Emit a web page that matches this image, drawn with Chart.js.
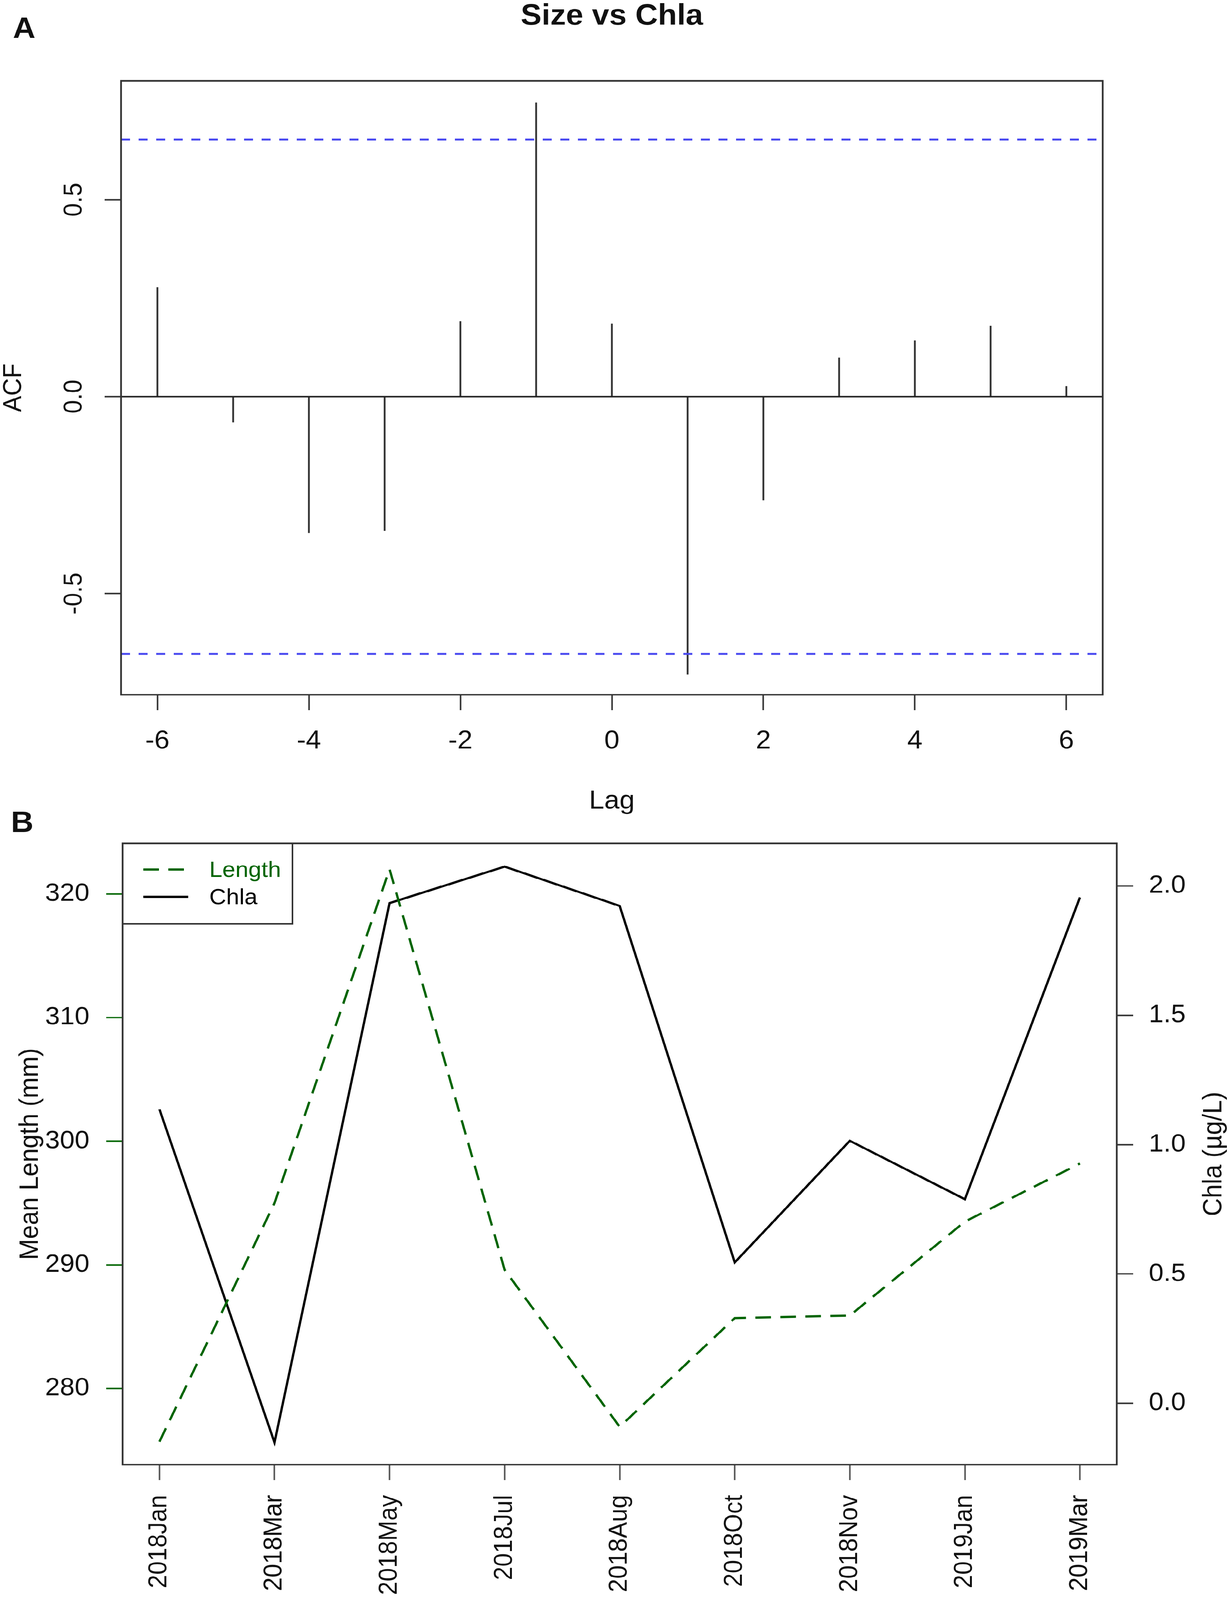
<!DOCTYPE html>
<html>
<head>
<meta charset="utf-8">
<script src="https://cdn.jsdelivr.net/npm/chart.js@4.4.1/dist/chart.umd.min.js"></script>
<style>
  html, body { margin: 0; padding: 0; background: #fff; overflow: hidden; }
  #page { width: 3150px; height: 4339px; position: relative; transform-origin: 0 0; }
  canvas { position: absolute; left: 0; }
  #acfChart { top: 0; }
  #seriesChart { top: 2200px; }
</style>
</head>
<body>
<div id="page">
<canvas id="acfChart" width="3150" height="2300"></canvas>
<canvas id="seriesChart" width="3150" height="2139"></canvas>
</div>
<script>
// panel A - cross correlation, size vs chla
const lags = [-6, -5, -4, -3, -2, -1, 0, 1, 2, 3, 4, 5, 6];
const acfValues = [0.277, -0.065, -0.346, -0.341, 0.191, 0.746, 0.185, -0.705, -0.263, 0.099, 0.142, 0.179, 0.026];
const ciLevel = 0.653;
const lagTicks = [-6, -4, -2, 0, 2, 4, 6];
const acfTicks = [-0.5, 0, 0.5];

// panel B - monthly mean length and chla
const months = ["2018Jan", "2018Mar", "2018May", "2018Jul", "2018Aug", "2018Oct", "2018Nov", "2019Jan", "2019Mar"];
const meanLength = [275.7, 295.0, 322.0, 289.6, 276.9, 285.7, 285.9, 293.5, 298.2];
const chla = [1.137, -0.151, 1.934, 2.075, 1.923, 0.545, 1.015, 0.789, 1.956];
const lengthTicks = [280, 290, 300, 310, 320];
const chlaTicks = [0, 0.5, 1, 1.5, 2];

// the photo may be taken of a shorter viewport than the page; squeeze to fit
const fit = Math.min(1, window.innerHeight / 4339);
document.getElementById("page").style.transform = "scale(1, " + fit + ")";

const FONT = "'Liberation Sans', Arial, Helvetica, sans-serif";
Chart.defaults.font.family = FONT;
Chart.defaults.color = "#111";

const GREEN = "#006400";

function tickMarks(color) {
    return {
        display: true,
        offset: false,
        drawOnChartArea: false,
        drawTicks: true,
        tickLength: 42,
        tickWidth: 4,
        tickColor: color
    };
}

function setTicks(values) {
    return function (scale) {
        scale.ticks = values.map(v => ({ value: v }));
    };
}

function rotatedText(ctx, text, x, y) {
    ctx.save();
    ctx.translate(x, y);
    ctx.rotate(-Math.PI / 2);
    ctx.fillText(text, 0, 0);
    ctx.restore();
}

// ---------- A ----------
const acfDecor = {
    id: "acfDecor",
    afterDraw(chart) {
        const ctx = chart.ctx;
        const ca = chart.chartArea;
        const midX = (ca.left + ca.right) / 2;
        const midY = (ca.top + ca.bottom) / 2;
        ctx.save();
        ctx.strokeStyle = "#333";
        ctx.lineWidth = 4.5;
        ctx.strokeRect(ca.left, ca.top, ca.right - ca.left, ca.bottom - ca.top);

        ctx.fillStyle = "#111";
        ctx.textAlign = "center";
        ctx.textBaseline = "middle";
        ctx.font = "66px " + FONT;
        const ys = chart.scales.y;
        ys.ticks.forEach(t => {
            rotatedText(ctx, t.value.toFixed(1), ca.left - 119, ys.getPixelForValue(t.value));
        });

        rotatedText(ctx, "ACF", 36, midY);

        ctx.textBaseline = "alphabetic";
        ctx.font = "70px " + FONT;
        ctx.fillText("Lag", midX, 2193);

        ctx.font = "bold 80px " + FONT;
        ctx.fillText("Size vs Chla", midX, 67);

        ctx.textAlign = "left";
        ctx.fillText("A", 33, 103);
        ctx.restore();
    }
};

new Chart(document.getElementById("acfChart"), {
    type: "bar",
    data: {
        datasets: [
            {
                type: "line",
                data: [{ x: -6.48, y: ciLevel }, { x: 6.48, y: ciLevel }],
                borderColor: "#4848f0",
                borderWidth: 5,
                borderDash: [23, 22],
                pointRadius: 0,
                order: 0
            },
            {
                type: "line",
                data: [{ x: -6.48, y: -ciLevel }, { x: 6.48, y: -ciLevel }],
                borderColor: "#4848f0",
                borderWidth: 5,
                borderDash: [23, 22],
                pointRadius: 0,
                order: 0
            },
            {
                type: "line",
                data: [{ x: -6.48, y: 0 }, { x: 6.48, y: 0 }],
                borderColor: "#222",
                borderWidth: 4,
                pointRadius: 0,
                order: 1
            },
            {
                type: "bar",
                data: lags.map((l, i) => ({ x: l, y: acfValues[i] })),
                backgroundColor: "#333",
                borderWidth: 0,
                barThickness: 4,
                order: 2
            }
        ]
    },
    options: {
        responsive: false,
        animation: false,
        devicePixelRatio: 1,
        layout: { padding: { top: 219, right: 326, left: 0, bottom: 0 } },
        plugins: { legend: { display: false }, tooltip: { enabled: false } },
        scales: {
            x: {
                type: "linear",
                offset: false,
                min: -6.48,
                max: 6.48,
                afterBuildTicks: setTicks(lagTicks),
                afterFit: s => { s.height = 416; },
                border: { display: false },
                grid: tickMarks("#333"),
                ticks: {
                    font: { size: 70 },
                    padding: 43,
                    maxRotation: 0,
                    autoSkip: false,
                    callback: v => String(v)
                }
            },
            y: {
                type: "linear",
                min: -0.757,
                max: 0.802,
                afterBuildTicks: setTicks(acfTicks),
                afterFit: s => { s.width = 310; },
                border: { display: false },
                grid: tickMarks("#333"),
                ticks: { display: false }
            }
        }
    },
    plugins: [acfDecor]
});

// ---------- B ----------
const seriesDecor = {
    id: "seriesDecor",
    afterDraw(chart) {
        const ctx = chart.ctx;
        const ca = chart.chartArea;
        const midY = (ca.top + ca.bottom) / 2;
        ctx.save();
        ctx.strokeStyle = "#333";
        ctx.lineWidth = 4.5;
        ctx.strokeRect(ca.left, ca.top, ca.right - ca.left, ca.bottom - ca.top);

        // legend
        const lx = ca.left, ly = ca.top, lw = 435, lh = 218;
        ctx.lineWidth = 4;
        ctx.strokeRect(lx, ly, lw, lh);
        const rows = [71, 145];
        ctx.font = "60px " + FONT;
        ctx.textAlign = "left";
        ctx.textBaseline = "middle";
        chart.data.datasets.forEach((ds, i) => {
            const y = ly + rows[i];
            ctx.beginPath();
            ctx.strokeStyle = ds.borderColor;
            ctx.lineWidth = ds.borderWidth;
            ctx.setLineDash(ds.borderDash || []);
            ctx.moveTo(367, y);
            ctx.lineTo(482, y);
            ctx.stroke();
            ctx.setLineDash([]);
            ctx.fillStyle = ds.borderColor;
            ctx.fillText(ds.label, 536, y + 3);
        });

        ctx.fillStyle = "#111";
        ctx.textAlign = "center";
        ctx.font = "68px " + FONT;
        rotatedText(ctx, "Mean Length (mm)", 78, midY);
        rotatedText(ctx, "Chla (\u00b5g/L)", 3109, midY);

        ctx.textAlign = "left";
        ctx.textBaseline = "alphabetic";
        ctx.font = "bold 80px " + FONT;
        ctx.fillText("B", 28, 56);
        ctx.restore();
    }
};

new Chart(document.getElementById("seriesChart"), {
    type: "line",
    data: {
        datasets: [
            {
                label: "Length",
                data: meanLength.map((v, i) => ({ x: i, y: v })),
                yAxisID: "yL",
                borderColor: GREEN,
                borderWidth: 6,
                borderDash: [40, 24],
                pointRadius: 0,
                tension: 0
            },
            {
                label: "Chla",
                data: chla.map((v, i) => ({ x: i, y: v })),
                yAxisID: "yR",
                borderColor: "#000",
                borderWidth: 6,
                pointRadius: 0,
                tension: 0
            }
        ]
    },
    options: {
        responsive: false,
        animation: false,
        devicePixelRatio: 1,
        layout: { padding: { top: 87, right: 0, left: 0, bottom: 0 } },
        plugins: { legend: { display: false }, tooltip: { enabled: false } },
        scales: {
            x: {
                type: "linear",
                offset: false,
                min: -0.32,
                max: 8.32,
                afterBuildTicks: setTicks(months.map((m, i) => i)),
                afterFit: s => { s.height = 367; },
                border: { display: false },
                grid: tickMarks("#555"),
                ticks: {
                    font: { size: 66 },
                    padding: 40,
                    minRotation: 90,
                    maxRotation: 90,
                    autoSkip: false,
                    callback: v => months[v]
                }
            },
            yL: {
                type: "linear",
                position: "left",
                min: 273.84,
                max: 324.1,
                afterBuildTicks: setTicks(lengthTicks),
                afterFit: s => { s.width = 314; },
                border: { display: false },
                grid: tickMarks(GREEN),
                ticks: { font: { size: 68 }, padding: 43, callback: v => String(v) }
            },
            yR: {
                type: "linear",
                position: "right",
                min: -0.237,
                max: 2.165,
                afterBuildTicks: setTicks(chlaTicks),
                afterFit: s => { s.width = 290; },
                border: { display: false },
                grid: tickMarks("#333"),
                ticks: { font: { size: 68 }, padding: 40, callback: v => v.toFixed(1) }
            }
        }
    },
    plugins: [seriesDecor]
});
</script>
</body>
</html>
